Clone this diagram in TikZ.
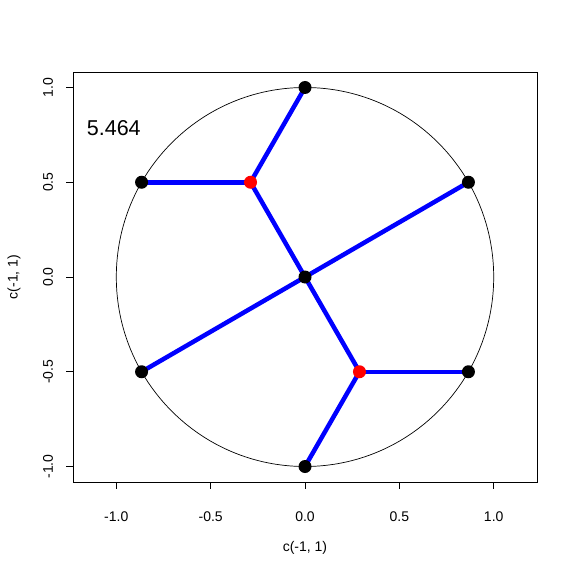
\documentclass[tikz,border=0pt]{standalone}
\usepackage{fontspec}
\setmainfont{Liberation Sans}
\usetikzlibrary{positioning,backgrounds}
\definecolor{rblue}{RGB}{0,0,255}
\definecolor{rred}{RGB}{255,0,0}

\begin{document}
\begin{tikzpicture}[x=1pt, y=1pt,
        dot/.style={circle, fill=black, inner sep=0pt, minimum size=13pt},
        steiner/.style={dot, fill=rred},
        edge/.style={rblue, line width=4.5pt},
        ticklabel/.style={font=\fontsize{14}{14}\selectfont, inner sep=0pt},
        axistitle/.style={font=\fontsize{14}{14}\selectfont, inner sep=0pt}
    ]
    \useasboundingbox (0,0) rectangle (575,574);
    % Frame
    \draw[line width=1pt] (73,92) rectangle (537,501);
    \begin{scope}[x=188.7pt, y=189.5pt, shift={(305pt,297pt)}]
        % Ticks and labels
        \foreach \v in {-1.0,-0.5,0.0,0.5,1.0} {
            \draw[line width=1pt] (\v,-1.0818) -- ++(0,-7pt);
            \node[ticklabel] at (\v,-1.2665) {\v};
            \draw[line width=1pt] (-1.2295,\v) -- ++(-7pt,0);
            \node[ticklabel, rotate=90] at (-1.362,\v) {\v};
        }
        \node[axistitle] (xtitle) at (0,-1.43) {c(-1, 1)};
        \node[axistitle, rotate=90] (ytitle) at (-1.542,0) {c(-1, 1)};
        \node[anchor=west, inner sep=0pt, font=\fontsize{21.5}{21.5}\selectfont] (total) at (-1.157,0.786) {5.464};

        % Nodes
        \node[dot] (n) at (0,1) {};
        \node[dot] (nw) at (-0.866,0.5) {};
        \node[dot] (ne) at (0.866,0.5) {};
        \node[dot] (c) at (0,0) {};
        \node[dot] (sw) at (-0.866,-0.5) {};
        \node[dot] (se) at (0.866,-0.5) {};
        \node[dot] (s) at (0,-1) {};
        \node[steiner] (st1) at (-0.2887,0.5) {};
        \node[steiner] (st2) at (0.2887,-0.5) {};

        % Circle and edges
        \begin{scope}[on background layer]
            \draw[line width=0.7pt] (0,0) circle[radius=1];
            \draw[edge] (n.center) -- (st1.center);
            \draw[edge] (nw.center) -- (st1.center);
            \draw[edge] (st1.center) -- (c.center);
            \draw[edge] (c.center) -- (ne.center);
            \draw[edge] (c.center) -- (sw.center);
            \draw[edge] (c.center) -- (st2.center);
            \draw[edge] (st2.center) -- (se.center);
            \draw[edge] (st2.center) -- (s.center);
        \end{scope}
    \end{scope}
\end{tikzpicture}
\end{document}
